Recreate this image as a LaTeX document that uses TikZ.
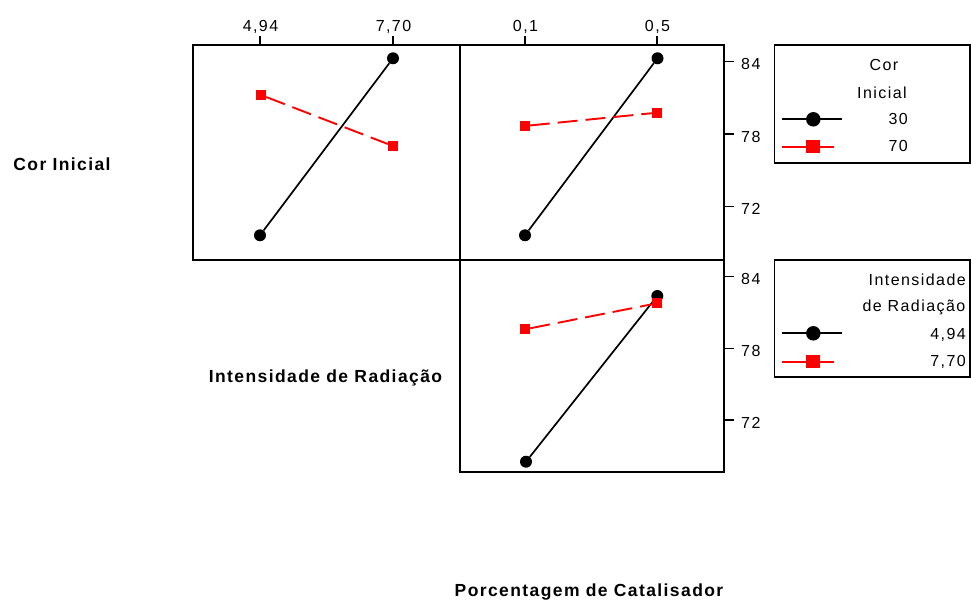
\documentclass[tikz,border=0pt]{standalone}
\usepackage{fontspec}
\setmainfont{Liberation Sans}
\newfontfamily\tickfont[LetterSpace=9]{Liberation Sans}
\newfontfamily\labfont[LetterSpace=8]{Liberation Sans Bold}
\begin{document}
\begin{tikzpicture}[x=1pt,y=-1pt,
  frame/.style={line width=1.8pt},
  blk/.style={line width=1.7pt, black},
  reddash/.style={line width=1.9pt, red, dash pattern=on 20pt off 8pt},
  redsolid/.style={line width=1.7pt, red},
  ticklab/.style={font=\tickfont\fontsize{16}{19}\selectfont, inner sep=0pt},
  axlab/.style={font=\labfont\fontsize{17.5}{21}\selectfont, inner sep=0pt},
  bdot/.style={circle, fill=black, inner sep=0pt, minimum size=12pt},
  rsq/.style={rectangle, fill=red, inner sep=0pt, minimum size=10pt},
  bdotL/.style={circle, fill=black, inner sep=0pt, minimum size=14.5pt},
  rsqL/.style={rectangle, fill=red, inner sep=0pt, minimum width=14pt, minimum height=13.5pt},
]
\useasboundingbox (0,0) rectangle (971,601);

% panels
\draw[frame] (193,45) rectangle (460,260);
\draw[frame] (460,45) rectangle (724,260);
\draw[frame] (460,260) rectangle (724,472);

% top ticks
\foreach \x/\t/\n in {260/{4,94}/ta,393/{7,70}/tb,525/{0,1}/tc,657/{0,5}/td}{
  \draw[line width=1.6pt] (\x,36.5) -- (\x,45);
  \node[ticklab, anchor=base] (\n) at (\x+0.5,31.7) {\t};
}
% right ticks
\foreach \y/\t/\n in {61.7/84/ra,134/78/rb,206.5/72/rc,276.7/84/rd,348.3/78/re,420/72/rf}{
  \draw[line width=1.6pt] (724,\y) -- (733.5,\y);
  \node[ticklab, anchor=west] (\n) at (741,\y+2.5) {\t};
}

% top-left panel
\node[bdot] (a1) at (260,235.3) {};
\node[bdot] (a2) at (393,58.3) {};
\draw[blk] (a1) -- (a2);
\node[rsq] (b1) at (261,95) {};
\node[rsq] (b2) at (393,146) {};
\draw[reddash] (b1) -- (b2);

% top-right panel
\node[bdot] (c1) at (525,235.3) {};
\node[bdot] (c2) at (657.5,58.3) {};
\draw[blk] (c1) -- (c2);
\node[rsq] (d1) at (524.6,126) {};
\node[rsq] (d2) at (657,112.7) {};
\draw[reddash] (d1) -- (d2);

% bottom panel
\node[bdot] (e1) at (526,461.7) {};
\node[bdot] (e2) at (657.3,296) {};
\draw[blk] (e1) -- (e2);
\node[rsq] (f1) at (525,329.3) {};
\node[rsq] (f2) at (657,303.3) {};
\draw[reddash] (f1) -- (f2);

% legends
\draw[frame] (774.5,45.3) rectangle (970,163.3);
\draw[frame] (774.5,260) rectangle (970,376.7);

\node[ticklab] (g1) at (884,65) {Cor};
\node[ticklab] (g2) at (882,93) {Inicial};
\coordinate (l1a) at (782,119.3); \coordinate (l1b) at (842,119.3);
\coordinate (l2a) at (782,146.7); \coordinate (l2b) at (834,146.7);
\draw[blk] (l1a) -- (l1b);
\draw[redsolid] (l2a) -- (l2b);
\node[bdotL] (m1) at (813.3,119.3) {};
\node[rsqL] (m2) at (812.7,146.7) {};
\node[ticklab, anchor=east] (g3) at (908,118.5) {30};
\node[ticklab, anchor=east] (g4) at (908,146) {70};

\node[ticklab, anchor=east] (h1) at (966,280) {Intensidade};
\node[ticklab, anchor=east] (h2) at (965.5,307) {de Radiação};
\coordinate (l3a) at (782,333.3); \coordinate (l3b) at (842,333.3);
\coordinate (l4a) at (782,361.7); \coordinate (l4b) at (834,361.7);
\draw[blk] (l3a) -- (l3b);
\draw[redsolid] (l4a) -- (l4b);
\node[bdotL] (m3) at (813.3,333.3) {};
\node[rsqL] (m4) at (812.7,361.7) {};
\node[ticklab, anchor=east] (h3) at (966,335) {4,94};
\node[ticklab, anchor=east] (h4) at (966,362) {7,70};

% axis labels
\node[axlab] (x1) at (62,164) {Cor Inicial};
\node[axlab] (x2) at (325.5,377.5) {Intensidade de Radiação};
\node[axlab] (x3) at (589,592) {Porcentagem de Catalisador};
\end{tikzpicture}
\end{document}
